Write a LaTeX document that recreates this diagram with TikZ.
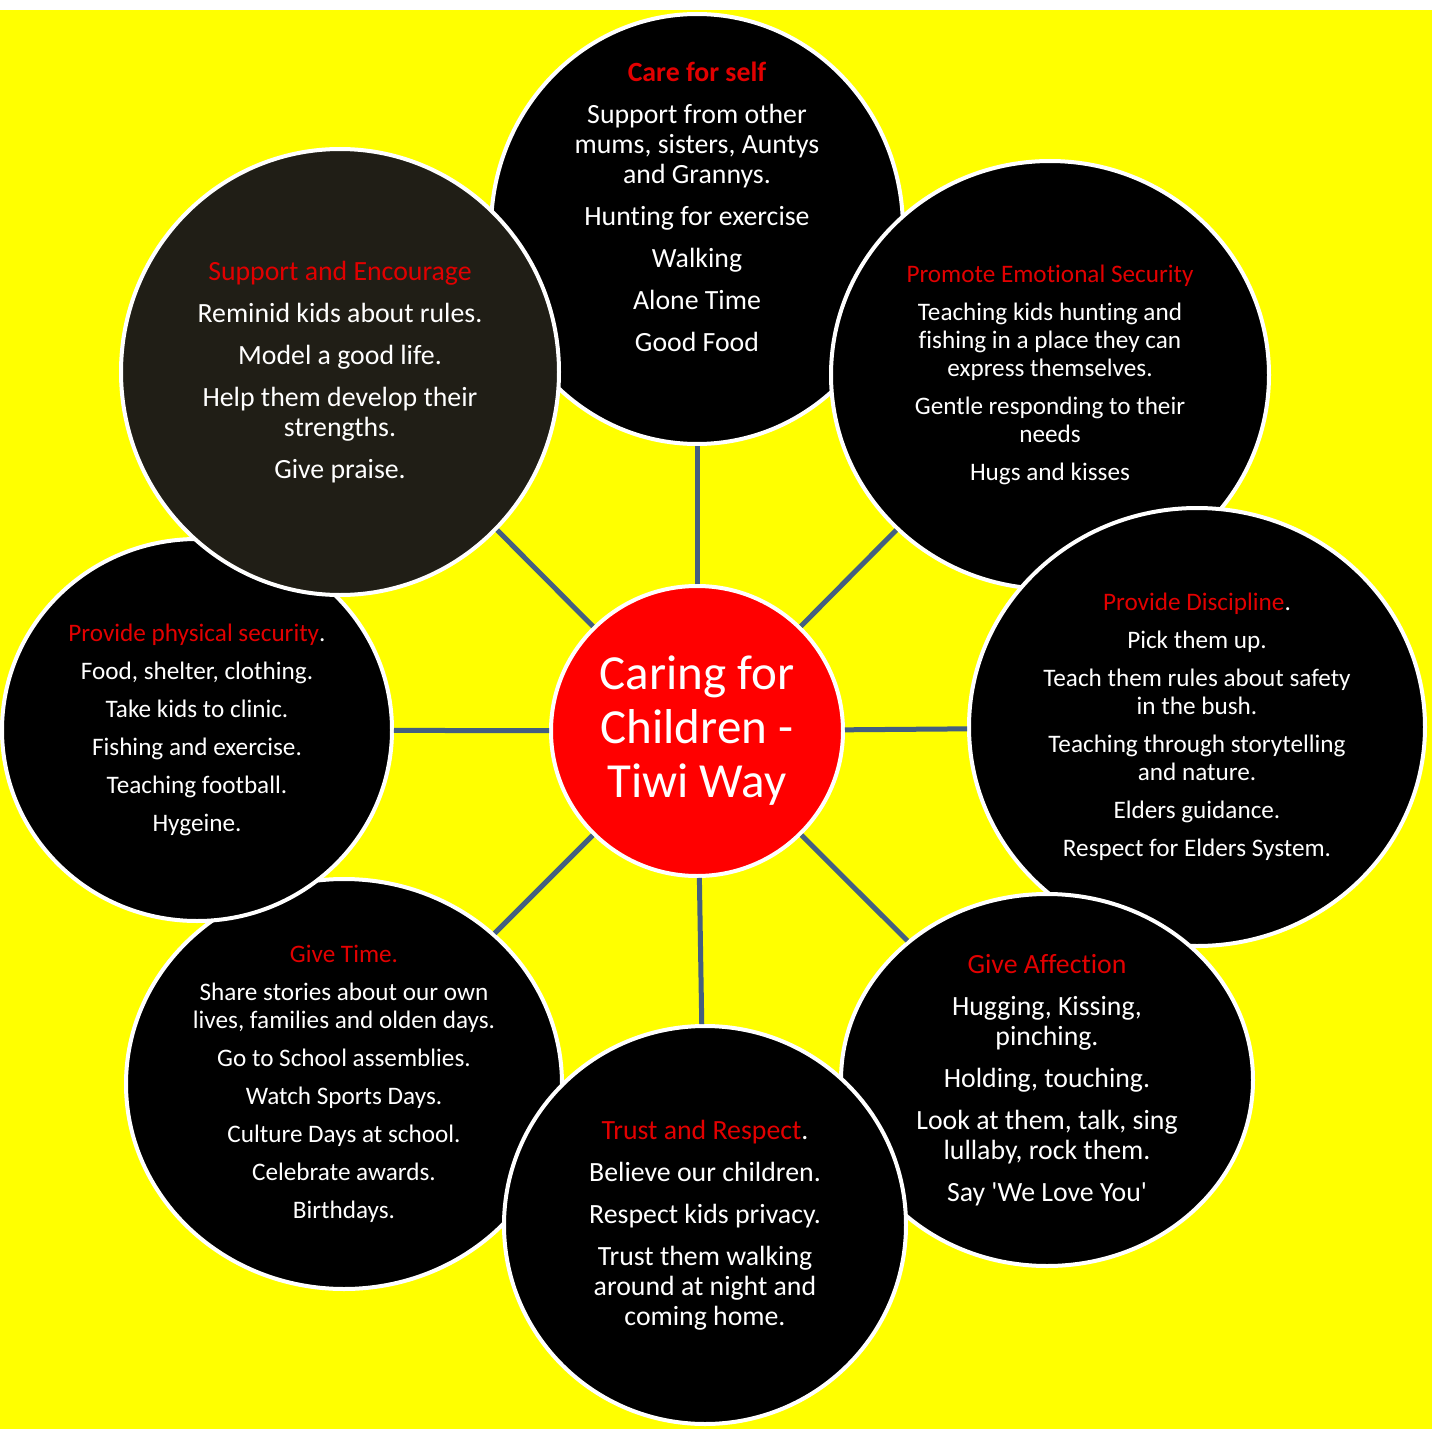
\documentclass[tikz,border=0pt]{standalone}
\usepackage{fontspec}
\setmainfont{Carlito}[Ligatures={NoCommon}]
\usepackage{tikz}
\usetikzlibrary{shapes.geometric}
\definecolor{tiwiYellow}{RGB}{255,255,0}
\definecolor{tiwiRed}{RGB}{255,0,0}
\definecolor{headRed}{RGB}{226,0,0}
\definecolor{spokeBlue}{RGB}{68,95,128}
\definecolor{darkOlive}{RGB}{32,30,22}
\newcommand{\hd}[1]{{\color{headRed}#1}}

\begin{document}
\begin{tikzpicture}[
  x=0.5pt, y=-0.5pt,
  petal/.style={ellipse, draw=white, line width=2pt, fill=black, text=white,
    align=center, inner sep=0pt},
  bigtxt/.style={font=\fontsize{13.9}{15}\selectfont},
  smalltxt/.style={font=\fontsize{12.6}{14}\selectfont},
  hubnode/.style={ellipse, draw=white, line width=2pt, fill=tiwiRed, text=white,
    align=center, inner sep=0pt, font=\fontsize{24.5}{27}\selectfont},
  spokeline/.style={draw=spokeBlue, line width=2.5pt},
]
  \useasboundingbox (0,0) rectangle (1436,1429);
  \fill[tiwiYellow] (0,10) rectangle (1432,1429);

  \node[petal, minimum width=206pt, minimum height=215pt,
    label={[text=white, align=center, bigtxt, yshift=11pt]center:{%
      \textbf{\hd{Care for self}}\\[6pt]
      Support from other\\mums, sisters, Auntys\\and Grannys.\\[6pt]
      Hunting for exercise\\[6pt]
      Walking\\[6pt]
      Alone Time\\[6pt]
      Good Food}}] (care) at (697,229) {};
  \node[petal, smalltxt, minimum width=219pt, minimum height=214pt] (emotional) at (1050,375)
    {\hd{Promote Emotional Security}\\[5pt]
     Teaching kids hunting and\\fishing in a place they can\\express themselves.\\[5pt]
     Gentle responding to their\\needs\\[5pt]
     Hugs and kisses};
  \node[petal, smalltxt, minimum width=228pt, minimum height=219pt] (discipline) at (1197,727)
    {\hd{Provide Discipline}.\\[5pt]
     Pick them up.\\[5pt]
     Teach them rules about safety\\in the bush.\\[5pt]
     Teaching through storytelling\\and nature.\\[5pt]
     Elders guidance.\\[5pt]
     Respect for Elders System.};
  \node[petal, bigtxt, minimum width=206pt, minimum height=186pt] (affection) at (1047,1080)
    {\hd{Give Affection}\\[6pt]
     Hugging, Kissing,\\pinching.\\[6pt]
     Holding, touching.\\[6pt]
     Look at them, talk, sing\\lullaby, rock them.\\[6pt]
     Say \textquotesingle We Love You\textquotesingle};
  \node[petal, smalltxt, minimum width=218pt, minimum height=205pt] (givetime) at (344,1084)
    {\hd{Give Time.}\\[5pt]
     Share stories about our own\\lives, families and olden days.\\[5pt]
     Go to School assemblies.\\[5pt]
     Watch Sports Days.\\[5pt]
     Culture Days at school.\\[5pt]
     Celebrate awards.\\[5pt]
     Birthdays.};
  \node[petal, bigtxt, minimum width=201pt, minimum height=199pt] (trust) at (705,1225)
    {\hd{Trust and Respect}.\\[6pt]
     Believe our children.\\[6pt]
     Respect kids privacy.\\[6pt]
     Trust them walking\\around at night and\\coming home.};
  \node[petal, smalltxt, minimum width=195pt, minimum height=191pt] (physical) at (197,730)
    {\hd{Provide physical security}.\\[5pt]
     Food, shelter, clothing.\\[5pt]
     Take kids to clinic.\\[5pt]
     Fishing and exercise.\\[5pt]
     Teaching football.\\[5pt]
     Hygeine.};
  \node[petal, bigtxt, fill=darkOlive, minimum width=219pt, minimum height=223pt] (support) at (340,372)
    {\hd{Support and Encourage}\\[6pt]
     Reminid kids about rules.\\[6pt]
     Model a good life.\\[6pt]
     Help them develop their\\strengths.\\[6pt]
     Give praise.};

  \node[hubnode, minimum width=146pt, minimum height=145pt] (hub) at (697,731)
    {Caring for\\Children -\\Tiwi Way};

  \foreach \petalname in {care, emotional, discipline, affection, trust, givetime, physical, support}
    \draw[spokeline] (hub) -- (\petalname);
\end{tikzpicture}
\end{document}
